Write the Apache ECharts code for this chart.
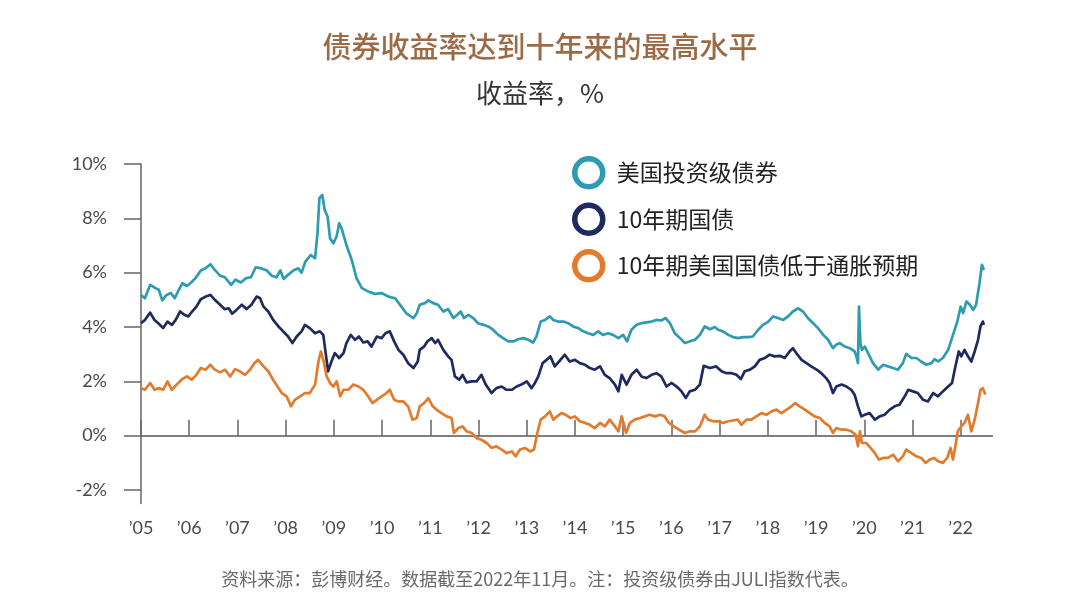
<!DOCTYPE html>
<html>
<head>
<meta charset="utf-8">
<script src="https://cdn.jsdelivr.net/npm/echarts@6/dist/echarts.min.js"></script>
<style>
html,body{margin:0;padding:0;background:#fff;}
#chart{width:1080px;height:603px;}
</style>
</head>
<body>
<div id="chart"></div>
<script>
// ---- Data ----
const titleText = '债券收益率达到十年来的最高水平';
const subtitleText = '收益率，%';
const footnoteText = '资料来源：彭博财经。数据截至2022年11月。注：投资级债券由JULI指数代表。';
const seriesNames = ['美国投资级债券', '10年期国债', '10年期美国国债低于通胀预期'];
const yTickValues = [-2, 0, 2, 4, 6, 8, 10];
const xTickYears = [2005,2006,2007,2008,2009,2010,2011,2012,2013,2014,2015,2016,2017,2018,2019,2020,2021,2022];

const igYears = [2005.00,2005.08,2005.19,2005.30,2005.37,2005.44,2005.53,2005.62,2005.70,2005.79,2005.86,2005.95,2006.04,2006.13,2006.24,2006.34,2006.44,2006.53,2006.64,2006.74,2006.87,2006.96,2007.07,2007.18,2007.28,2007.38,2007.49,2007.61,2007.71,2007.81,2007.89,2007.96,2008.05,2008.16,2008.26,2008.33,2008.41,2008.52,2008.61,2008.66,2008.70,2008.76,2008.81,2008.87,2008.92,2008.99,2009.06,2009.11,2009.16,2009.26,2009.37,2009.47,2009.58,2009.71,2009.85,2009.99,2010.13,2010.27,2010.40,2010.51,2010.65,2010.72,
2010.78,2010.89,2010.96,2011.06,2011.16,2011.27,2011.37,2011.48,2011.56,2011.63,2011.70,2011.79,2011.89,2011.99,2012.10,2012.20,2012.30,2012.41,2012.51,2012.62,2012.72,2012.82,2012.93,2013.03,2013.13,2013.20,2013.29,2013.38,2013.48,2013.55,2013.65,2013.76,2013.86,2013.96,2014.07,2014.17,2014.27,2014.38,2014.48,2014.58,2014.69,2014.79,2014.90,2015.00,2015.08,2015.17,2015.28,2015.38,2015.48,2015.59,2015.69,2015.79,2015.88,2015.97,2016.07,2016.18,2016.28,2016.38,2016.49,2016.59,
2016.69,2016.80,2016.90,2016.97,2017.07,2017.18,2017.28,2017.38,2017.49,2017.59,2017.69,2017.80,2017.90,2018.01,2018.11,2018.21,2018.32,2018.42,2018.52,2018.63,2018.73,2018.83,2018.94,2019.04,2019.15,2019.25,2019.35,2019.42,2019.49,2019.60,2019.70,2019.80,2019.84,2019.87,2019.89,2019.92,2019.95,2020.01,2020.08,2020.18,2020.29,2020.39,2020.49,2020.60,2020.70,2020.80,2020.87,2020.98,2021.08,2021.18,2021.29,2021.39,2021.46,2021.53,2021.63,2021.74,2021.84,2021.93,2022.00,2022.05,2022.12,2022.19,2022.26,2022.32,2022.39,2022.44,2022.48];
const igValues = [5.18,5.06,5.55,5.43,5.37,4.98,5.18,5.25,5.06,5.39,5.61,5.51,5.64,5.80,6.08,6.16,6.31,6.10,5.89,5.83,5.55,5.74,5.64,5.80,5.83,6.20,6.16,6.08,5.89,5.83,6.08,5.77,5.92,6.08,6.16,6.00,6.41,6.65,6.53,7.45,8.74,8.86,8.31,8.06,7.27,7.08,7.35,7.82,7.63,7.02,6.47,5.80,5.43,5.31,5.22,5.25,5.12,5.06,4.75,4.49,4.33,4.51,
4.82,4.88,4.98,4.88,4.82,4.57,4.66,4.33,4.45,4.57,4.33,4.45,4.33,4.14,4.08,4.02,3.90,3.71,3.59,3.47,3.47,3.55,3.59,3.53,3.43,3.65,4.20,4.26,4.39,4.26,4.20,4.20,4.14,4.02,3.96,3.84,3.77,3.71,3.84,3.71,3.77,3.71,3.59,3.71,3.47,3.90,4.08,4.14,4.17,4.20,4.26,4.24,4.33,4.14,3.77,3.59,3.41,3.47,3.53,3.71,
4.02,3.92,4.00,3.90,3.84,3.71,3.63,3.59,3.63,3.63,3.65,3.90,4.08,4.20,4.39,4.33,4.26,4.39,4.57,4.69,4.57,4.33,4.14,3.96,3.71,3.53,3.22,3.35,3.41,3.28,3.22,3.10,2.91,2.67,4.75,3.41,3.16,3.28,3.04,2.67,2.43,2.61,2.55,2.49,2.43,2.67,3.01,2.86,2.86,2.73,2.61,2.67,2.82,2.73,2.86,3.16,3.71,4.20,4.75,4.51,4.94,4.82,4.63,4.82,5.61,6.29,6.10];

const tsyYears = [2005.00,2005.08,2005.19,2005.28,2005.37,2005.46,2005.55,2005.64,2005.72,2005.81,2005.90,2005.98,2006.06,2006.15,2006.24,2006.34,2006.44,2006.53,2006.64,2006.73,2006.82,2006.89,2006.98,2007.09,2007.19,2007.29,2007.40,2007.47,2007.54,2007.64,2007.74,2007.85,2007.95,2008.05,2008.14,2008.23,2008.33,2008.40,2008.50,2008.61,2008.71,2008.78,2008.83,2008.88,2008.95,2009.02,2009.11,2009.20,2009.26,2009.35,2009.44,2009.52,2009.61,2009.70,2009.78,2009.89,2009.99,2010.07,2010.16,2010.25,2010.34,2010.44,2010.54,2010.65,2010.74,
2010.78,2010.87,2010.94,2011.03,2011.10,2011.16,2011.27,2011.37,2011.44,2011.51,2011.60,2011.67,2011.75,2011.86,2011.96,2012.06,2012.15,2012.27,2012.37,2012.48,2012.58,2012.69,2012.79,2012.89,2013.00,2013.10,2013.17,2013.24,2013.33,2013.41,2013.49,2013.58,2013.67,2013.79,2013.89,2014.00,2014.10,2014.21,2014.31,2014.41,2014.52,2014.62,2014.72,2014.83,2014.90,2014.97,2015.07,2015.17,2015.28,2015.38,2015.48,2015.59,2015.69,2015.79,2015.90,2016.00,2016.11,2016.21,2016.30,2016.38,2016.49,2016.59,2016.67,
2016.69,2016.80,2016.93,2017.04,2017.14,2017.25,2017.35,2017.44,2017.52,2017.63,2017.73,2017.83,2017.94,2018.04,2018.14,2018.25,2018.35,2018.45,2018.52,2018.59,2018.70,2018.80,2018.90,2019.01,2019.11,2019.21,2019.28,2019.35,2019.42,2019.53,2019.63,2019.73,2019.80,2019.87,2019.94,2020.01,2020.11,2020.22,2020.32,2020.42,2020.53,2020.63,2020.73,2020.84,2020.91,2021.01,2021.11,2021.22,2021.32,2021.43,2021.53,2021.63,2021.74,2021.82,2021.89,2021.96,2022.01,2022.08,2022.15,2022.22,2022.29,2022.36,2022.41,2022.46,2022.48];
const tsyValues = [4.14,4.26,4.53,4.26,4.12,3.96,4.20,4.08,4.26,4.57,4.45,4.39,4.57,4.75,5.02,5.12,5.18,5.00,4.82,4.66,4.69,4.49,4.63,4.82,4.66,4.82,5.12,5.06,4.75,4.57,4.26,4.02,3.84,3.65,3.41,3.65,3.84,4.08,3.96,3.77,3.84,3.71,3.04,2.37,2.73,3.04,2.86,3.04,3.41,3.71,3.53,3.65,3.43,3.47,3.28,3.65,3.59,3.77,3.84,3.47,3.16,2.98,2.67,2.49,2.73,
3.16,3.28,3.47,3.59,3.41,3.53,3.16,2.92,2.79,2.18,2.06,2.24,1.96,2.00,2.00,2.24,1.88,1.57,1.75,1.81,1.69,1.69,1.81,1.88,2.00,1.75,1.94,2.18,2.67,2.79,2.92,2.55,2.73,2.98,2.73,2.79,2.67,2.61,2.49,2.43,2.55,2.24,2.12,1.88,1.63,2.24,1.88,2.24,2.43,2.18,2.12,2.24,2.30,2.18,1.81,1.94,1.81,1.63,1.39,1.63,1.69,1.88,2.57,
2.55,2.49,2.55,2.37,2.30,2.30,2.24,2.08,2.37,2.43,2.55,2.79,2.86,2.98,2.92,2.94,2.86,3.10,3.22,3.04,2.79,2.67,2.55,2.43,2.30,2.12,1.94,1.57,1.81,1.88,1.81,1.69,1.51,1.08,0.71,0.77,0.83,0.59,0.71,0.77,0.96,1.08,1.14,1.45,1.69,1.63,1.57,1.32,1.26,1.57,1.45,1.63,1.81,1.94,2.55,3.10,2.92,3.16,2.92,2.73,3.10,3.53,4.02,4.20,4.08];

const realYears = [2005.00,2005.08,2005.19,2005.28,2005.37,2005.46,2005.55,2005.64,2005.74,2005.84,2005.95,2006.05,2006.15,2006.24,2006.34,2006.44,2006.53,2006.64,2006.74,2006.85,2006.95,2007.05,2007.16,2007.26,2007.35,2007.43,2007.54,2007.64,2007.74,2007.83,2007.92,2008.02,2008.11,2008.19,2008.30,2008.40,2008.50,2008.61,2008.68,2008.73,2008.79,2008.85,2008.92,2008.99,2009.06,2009.13,2009.20,2009.30,2009.40,2009.51,2009.61,2009.71,2009.80,2009.89,2009.99,2010.09,2010.16,2010.25,2010.34,2010.44,2010.54,2010.63,2010.72,
2010.78,2010.87,2010.96,2011.05,2011.13,2011.23,2011.34,2011.44,2011.49,2011.58,2011.67,2011.75,2011.86,2011.96,2012.06,2012.17,2012.27,2012.37,2012.48,2012.58,2012.69,2012.77,2012.86,2012.96,2013.07,2013.15,2013.22,2013.29,2013.38,2013.48,2013.55,2013.63,2013.72,2013.81,2013.91,2014.00,2014.10,2014.21,2014.31,2014.41,2014.52,2014.62,2014.72,2014.83,2014.90,2014.97,2015.06,2015.14,2015.24,2015.35,2015.45,2015.55,2015.66,2015.76,2015.86,2015.95,2016.05,2016.16,2016.28,2016.38,2016.49,2016.59,
2016.69,2016.76,2016.87,2016.97,2017.07,2017.18,2017.28,2017.38,2017.45,2017.56,2017.66,2017.76,2017.87,2017.97,2018.07,2018.18,2018.28,2018.39,2018.49,2018.57,2018.66,2018.77,2018.87,2018.97,2019.08,2019.18,2019.28,2019.35,2019.42,2019.53,2019.63,2019.73,2019.82,2019.87,2019.91,2019.95,2020.04,2020.13,2020.22,2020.30,2020.39,2020.49,2020.60,2020.70,2020.80,2020.87,2020.98,2021.08,2021.18,2021.27,2021.36,2021.45,2021.53,2021.63,2021.72,2021.79,2021.84,2021.89,2021.94,2022.01,2022.08,2022.15,2022.22,2022.29,2022.36,2022.41,2022.46,2022.51];
const realValues = [1.75,1.69,1.94,1.69,1.75,1.69,2.00,1.69,1.88,2.06,2.18,2.06,2.24,2.49,2.43,2.61,2.43,2.33,2.43,2.18,2.45,2.37,2.24,2.43,2.67,2.79,2.55,2.37,2.06,1.81,1.57,1.45,1.08,1.32,1.45,1.57,1.57,1.88,2.73,3.10,2.73,2.18,1.94,1.81,2.00,1.45,1.69,1.69,1.88,1.81,1.69,1.45,1.20,1.32,1.45,1.57,1.69,1.32,1.26,1.26,1.08,0.59,0.65,
1.08,1.20,1.38,1.08,0.96,0.83,0.71,0.65,0.10,0.28,0.34,0.16,0.10,-0.09,-0.15,-0.27,-0.45,-0.39,-0.51,-0.64,-0.58,-0.76,-0.51,-0.45,-0.58,-0.51,0.10,0.59,0.71,0.89,0.59,0.71,0.83,0.77,0.65,0.71,0.53,0.47,0.40,0.28,0.47,0.34,0.59,0.34,0.16,0.71,0.10,0.47,0.59,0.65,0.71,0.77,0.71,0.77,0.71,0.47,0.34,0.22,0.10,0.16,0.16,0.34,
0.77,0.59,0.53,0.53,0.47,0.53,0.56,0.59,0.40,0.59,0.59,0.71,0.83,0.77,0.89,0.96,0.83,0.96,1.08,1.20,1.08,0.96,0.83,0.71,0.65,0.47,0.34,0.10,0.28,0.22,0.22,0.16,0.04,-0.39,0.16,-0.27,-0.27,-0.45,-0.64,-0.88,-0.82,-0.82,-0.70,-0.94,-0.76,-0.51,-0.64,-0.76,-0.82,-1.00,-0.88,-0.82,-0.94,-1.00,-0.82,-0.45,-0.88,-0.39,0.16,0.34,0.47,0.77,0.16,0.59,1.20,1.69,1.75,1.51];

const colors = ['#2e9bb0', '#1f2b5e', '#e17b2d'];

// ---- Chart ----
function zip(xs, ys) { return xs.map((x, i) => [x, ys[i]]); }
const seriesData = [zip(igYears, igValues), zip(tsyYears, tsyValues), zip(realYears, realValues)];

const chart = echarts.init(document.getElementById('chart'), null, { renderer: 'canvas' });
const cjk = '"Noto Sans CJK SC", "Noto Sans", sans-serif';
const option = {
  animation: false,
  backgroundColor: '#ffffff',
  title: [
    { text: titleText, left: 'center', top: 27,
      textStyle: { fontFamily: cjk, fontSize: 29, fontWeight: 500, color: '#9c6b46' } },
    { text: subtitleText, left: 'center', top: 75,
      textStyle: { fontFamily: cjk, fontSize: 26, fontWeight: 'normal', color: '#333333' } },
    { text: footnoteText, left: 'center', top: 565,
      textStyle: { fontFamily: cjk, fontSize: 18, fontWeight: 'normal', color: '#6a6a6a' } }
  ],
  legend: {
    orient: 'vertical',
    left: 567,
    top: 151,
    itemWidth: 28,
    itemHeight: 28,
    itemGap: 13,
    icon: 'circle',
    selectedMode: false,
    textStyle: { fontFamily: cjk, fontSize: 23, color: '#222222', padding: [0, 0, 0, 9] },
    data: seriesNames.map((n, i) => ({
      name: n,
      itemStyle: { color: '#ffffff', borderColor: colors[i], borderWidth: 5.5 }
    }))
  },
  grid: { left: 141, right: 87, top: 164, bottom: 99.4, containLabel: false },
  xAxis: {
    type: 'value',
    min: 2005,
    max: 2022.67,
    axisLine: { show: false },
    splitLine: { show: false },
    axisTick: { show: true, inside: true, length: 16, customValues: xTickYears,
      lineStyle: { color: '#666666', width: 1.5 } },
    axisLabel: { customValues: xTickYears, margin: 16, fontSize: 18, color: '#4a4a4a',
      fontFamily: 'Lato, "Open Sans", sans-serif',
      formatter: v => '\u2019' + String(Math.round(v)).slice(2) }
  },
  yAxis: {
    type: 'value',
    min: -2.5,
    max: 10,
    axisLine: { show: true, lineStyle: { color: '#666666', width: 1.5 } },
    splitLine: { show: false },
    axisTick: { show: true, inside: false, length: 17, customValues: yTickValues,
      lineStyle: { color: '#666666', width: 1.5 } },
    axisLabel: { customValues: yTickValues, margin: 34, fontSize: 18, color: '#4a4a4a',
      fontFamily: 'Lato, "Open Sans", sans-serif',
      formatter: v => v + '%' }
  },
  series: seriesNames.map((n, i) => ({
    name: n,
    type: 'line',
    data: seriesData[i],
    symbol: 'none',
    smooth: false,
    color: colors[i],
    lineStyle: { color: colors[i], width: 2.7, join: 'round' },
    z: 3 + i,
    markLine: i === 0 ? {
      silent: true, symbol: 'none', label: { show: false },
      lineStyle: { color: '#555555', width: 1.5, type: 'solid' },
      data: [{ yAxis: 0 }], z: 1
    } : undefined
  }))
};
chart.setOption(option);
</script>
</body>
</html>
